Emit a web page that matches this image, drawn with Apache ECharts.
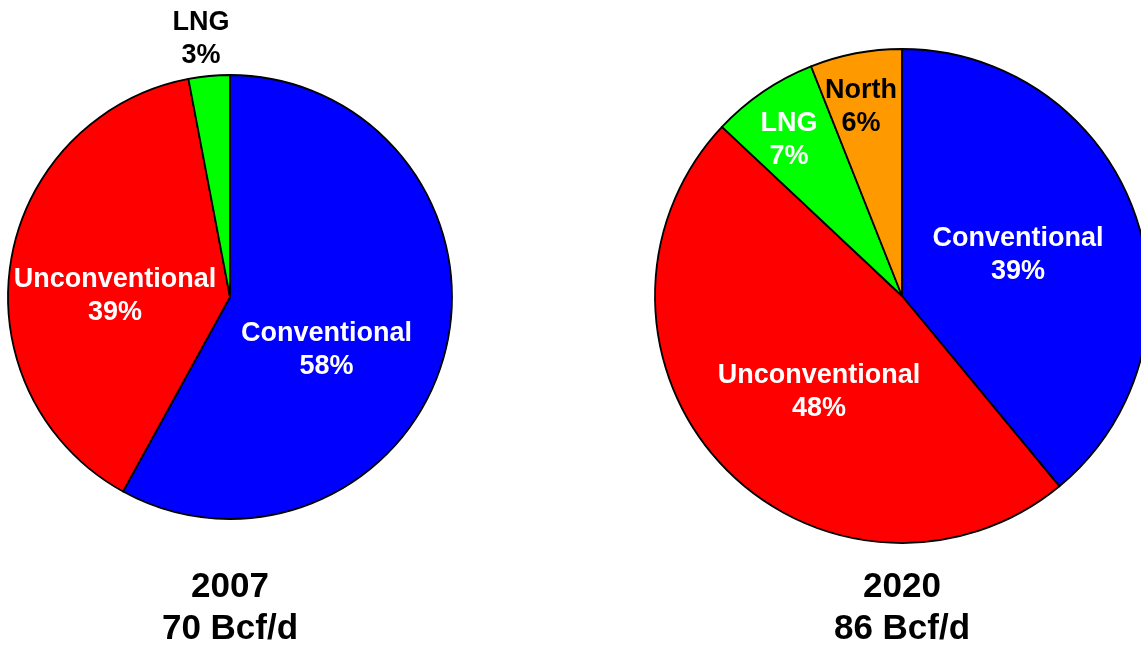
<!DOCTYPE html>
<html>
<head>
<meta charset="utf-8">
<script src="https://cdn.jsdelivr.net/npm/echarts@6/dist/echarts.min.js"></script>
<style>
html,body{margin:0;padding:0;background:#fff;}
#chart{width:1141px;height:647px;}
</style>
</head>
<body>
<div id="chart"></div>
<script>
// ---- data ----
const categories2007 = ['Conventional', 'Unconventional', 'LNG'];
const values2007 = [58, 39, 3];
const categories2020 = ['Conventional', 'Unconventional', 'LNG', 'North'];
const values2020 = [39, 48, 7, 6];
const titles = ['2007\n70 Bcf/d', '2020\n86 Bcf/d'];

// ---- styles / layout ----
const FONT = '"Liberation Sans", Arial, Helvetica, sans-serif';
const colorMap = { 'Conventional': '#0000FF', 'Unconventional': '#FF0000', 'LNG': '#00FF00', 'North': '#FF9900' };
const pies = [
  { center: [230, 297], radius: 222,
    labelOffsets: [[96.5, 53], [-115, -0.5], [-29, -258]],
    labelColors: ['#fff', '#fff', '#000'] },
  { center: [902, 296], radius: 247,
    labelOffsets: [[116, -41], [-83, 96], [-113, -156], [-41, -189]],
    labelColors: ['#fff', '#fff', '#fff', '#000'] }
];

function buildData(cats, vals, pie) {
  return cats.map((c, i) => ({
    name: c,
    value: vals[i],
    itemStyle: { color: colorMap[c] },
    label: { color: pie.labelColors[i] }
  }));
}

function makeSeries(cats, vals, pie) {
  return {
    type: 'pie',
    center: pie.center,
    radius: pie.radius,
    startAngle: 90,
    clockwise: true,
    avoidLabelOverlap: false,
    silent: true,
    itemStyle: { borderColor: '#000', borderWidth: 1.8 },
    label: {
      show: true,
      position: 'inside',
      formatter: '{b}\n{c}%',
      fontFamily: FONT,
      fontWeight: 'bold',
      fontSize: 27,
      lineHeight: 33
    },
    labelLine: { show: false },
    labelLayout: function (p) {
      const off = pie.labelOffsets[p.dataIndex];
      return {
        x: pie.center[0] + off[0],
        y: pie.center[1] + off[1],
        align: 'center',
        verticalAlign: 'middle'
      };
    },
    emphasis: { disabled: true },
    data: buildData(cats, vals, pie)
  };
}

const chart = echarts.init(document.getElementById('chart'));
chart.setOption({
  animation: false,
  backgroundColor: '#fff',
  title: titles.map((t, i) => ({
    text: t,
    left: pies[i].center[0],
    top: 566,
    padding: 0,
    textAlign: 'center',
    textStyle: { fontFamily: FONT, fontWeight: 'bold', fontSize: 35, lineHeight: 42, color: '#000' }
  })),
  series: [
    makeSeries(categories2007, values2007, pies[0]),
    makeSeries(categories2020, values2020, pies[1])
  ]
});
</script>
</body>
</html>
